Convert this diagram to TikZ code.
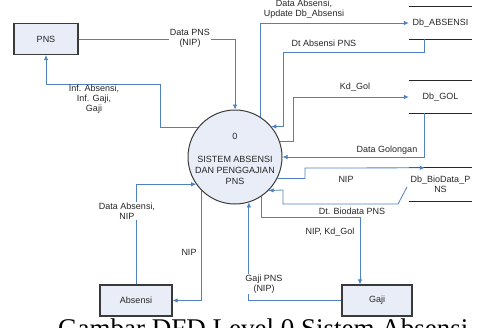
\documentclass[tikz,border=0pt]{standalone}
\usepackage{fontspec}
\setmainfont{Liberation Sans}
\newfontfamily\capfont{Liberation Serif}
\usetikzlibrary{arrows.meta,calc}
\definecolor{flowblue}{HTML}{4F81BD}
\definecolor{boxfill}{HTML}{E8EDF7}
\definecolor{edgegray}{HTML}{3A3A3A}
\definecolor{txt}{HTML}{262626}
\begin{document}
\begin{tikzpicture}[x=1pt,y=-1pt,
  every node/.style={font=\fontsize{9}{10}\selectfont, text=txt, inner sep=1pt},
  entity/.style={draw=edgegray, line width=1.2pt, fill=boxfill, minimum height=31pt, inner sep=0pt},
  proc/.style={circle, draw=edgegray, line width=1pt, fill=boxfill, minimum size=94pt, inner sep=0pt},
  store/.style={minimum width=63pt, minimum height=32pt, inner sep=0pt, align=center},
  storeline/.style={draw=black!85, line width=1pt},
  flow/.style={draw=flowblue, line width=0.8pt, -{Latex[length=5pt,width=4.5pt]}},
  lbl/.style={align=center},
  lblw/.style={align=center, fill=white, inner sep=1pt}]
\useasboundingbox (0,0) rectangle (477,327);
\clip (0,0) rectangle (477,327);

% entities
\node[entity, minimum width=64pt] (pns) at (46,39) {PNS};
\node[entity, minimum width=72pt] (abs) at (136,300.5) {Absensi};
\node[entity, minimum width=70pt] (gaji) at (377,300.5) {Gaji};

% process
\node[proc] (p0) at (235,157) {};
\node (p0id) at (235,136) {0};
\node[align=center, font=\fontsize{9}{11}\selectfont] (p0txt) at (235,170) {SISTEM ABSENSI\\DAN PENGGAJIAN\\PNS};

% data stores
\node[store] (dbabs) at (440.5,23) {Db\_ABSENSI};
\node[store] (dbgol) at (440.5,97) {Db\_GOL};
\node[store, minimum height=33pt] (dbbio) at (440.5,184.5) {Db\_BioData\_P\\NS};
\foreach \s in {dbabs,dbgol,dbbio}{
  \draw[storeline] (\s.north west) -- (\s.north east);
  \draw[storeline] (\s.south west) -- (\s.south east);
}
\coordinate (bioout) at (407,187);

% flows
\draw[flow] (pns.east) -| (p0.north);
\node[lblw] (lpns) at (190,38) {Data PNS\\(NIP)};

\draw[flow] (p0.142) -| (160,84) -| (pns.south);
\node[lbl] (linf) at (94,99) {Inf. Absensi,\\Inf. Gaji,\\Gaji};

\draw[flow] (p0.58) |- (dbabs.west);
\node[lbl] (ldabs) at (304,9.5) {Data Absensi,\\Update Db\_Absensi};

\draw[flow] ([xshift=16pt]dbabs.south west) |- (283,52) |- (p0.40);
\node[lbl] (ldtabs) at (324,43) {Dt Absensi PNS};

\draw[flow] (p0.19) -| (293,97) -- (dbgol.west);
\node[lbl] (lkd) at (355,87) {Kd\_Gol};

\draw[flow] ([xshift=16pt]dbgol.south west) |- (p0.east);
\node[lbl] (lgol) at (387,150) {Data Golongan};

\draw[flow] (p0.-27) -| (305,168) -- ([xshift=16pt]dbbio.north west);
\node[lbl] (lnipbio) at (346,179) {NIP};

\draw[flow] (bioout) -- (398,204) -| (283,190) -- (p0.-45);
\node[lbl] (lbio) at (352,211) {Dt. Biodata PNS};

\draw[flow] (p0.-56) |- (360,217) -- (360,217 |- gaji.north);
\node[lbl] (lnipkd) at (330,232) {NIP, Kd\_Gol};

\draw[flow] (gaji.west) -| (p0.-73);
\node[lblw] (lgaji) at (264,284) {Gaji PNS\\(NIP)};

\draw[flow] (p0.-135) |- (abs.east);
\node[lbl] (lnipabs) at (189,252) {NIP};

\draw[flow] (abs.north) |- (p0.215);
\node[lblw] (ldatabs) at (127,211) {Data Absensi,\\NIP};

% caption (cut off by the frame, as in the reference)
\node[anchor=base west, inner sep=0pt, text=black, font=\capfont\fontsize{27}{30}\selectfont] (cap) at (58,337) {Gambar DFD Level 0 Sistem Absensi};
\end{tikzpicture}
\end{document}
